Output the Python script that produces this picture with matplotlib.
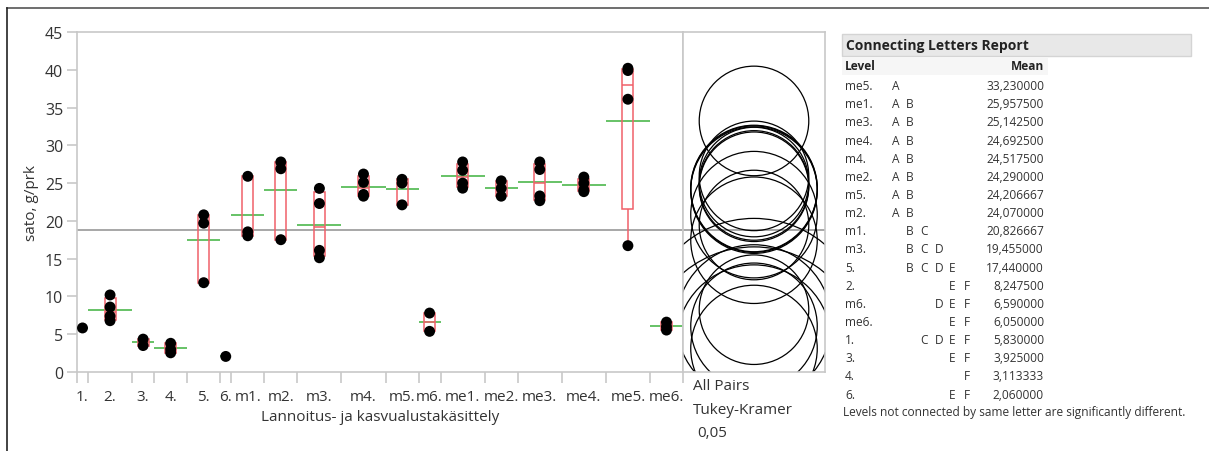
"""JMP-style oneway plot: yield by fertiliser / growing-medium treatment,
with Tukey-Kramer comparison circles and connecting letters report."""

import matplotlib
matplotlib.use("Agg")
import matplotlib.pyplot as plt  # noqa: E402
import numpy as np  # noqa: E402
from matplotlib.lines import Line2D  # noqa: E402
from matplotlib.patches import Circle, Rectangle  # noqa: E402

plt.rcParams["font.family"] = ["Open Sans", "DejaVu Sans"]

LEVELS = ["1.", "2.", "3.", "4.", "5.", "6.", "m1.", "m2.", "m3.", "m4.", "m5.",
          "m6.", "me1.", "me2.", "me3.", "me4.", "me5.", "me6."]
OBS = [
    [5.83],
    [10.2, 8.6, 7.4, 6.79],
    [4.35, 3.5],
    [3.8, 3.0, 2.54],
    [20.8, 19.7, 11.82],
    [2.06],
    [25.9, 18.55, 18.03],
    [27.8, 26.9, 17.51],
    [24.3, 22.3, 16.1, 15.12],
    [26.2, 25.1, 23.5, 23.27],
    [25.5, 25.0, 22.12],
    [7.8, 5.38],
    [27.8, 26.7, 25.0, 24.33],
    [25.3, 24.3, 23.27],
    [27.8, 26.8, 23.3, 22.67],
    [25.8, 25.0, 24.1, 23.87],
    [40.2, 39.9, 36.1, 16.72],
    [6.6, 6.0, 5.55],
]
# comparison circle radius for a single observation (y units)
CIRCLE_R1 = 14.5

REPORT_LEVELS = ["me5.", "me1.", "me3.", "me4.", "m4.", "me2.", "m5.", "m2.", "m1.",
                 "m3.", "5.", "2.", "m6.", "me6.", "1.", "3.", "4.", "6."]
REPORT_LETTERS = ["A", "AB", "AB", "AB", "AB", "AB", "AB", "AB", "BC", "BCD", "BCDE",
                  "EF", "DEF", "EF", "CDEF", "EF", "F", "EF"]
REPORT_MEANS = [33.23, 25.9575, 25.1425, 24.6925, 24.5175, 24.29, 24.206667, 24.07,
                20.826667, 19.455, 17.44, 8.2475, 6.59, 6.05, 5.83, 3.925, 3.113333, 2.06]

RED = "#f0606a"
GREEN = "#66c266"
TXT = "#333333"
SPINE = "#c8c8c8"

W, H = 1209, 452
fig = plt.figure(figsize=(W / 100, H / 100), dpi=100)


def fx(px):
    return px / W


def fy(py):
    return 1 - py / H


# main plot
ax = fig.add_axes([fx(77), fy(373), fx(683 - 77), fy(33) - fy(373)])
counts = np.array([len(o) for o in OBS])
edges = np.concatenate([[0], np.cumsum(counts)])
centers = (edges[:-1] + edges[1:]) / 2
grand = np.mean(np.concatenate(OBS))

ax.axhline(grand, color="#909090", lw=1.1, zorder=1)
for c, lo, hi, vals in zip(centers, edges[:-1], edges[1:], OBS):
    vals = np.array(vals)
    mean = vals.mean()
    ax.hlines(mean, lo, hi, color=GREEN, lw=1.4, zorder=2)
    if len(vals) > 1:
        q1, med, q3 = np.quantile(vals, [0.25, 0.5, 0.75], method="weibull")
        bw = 0.5
        ax.add_patch(Rectangle((c - bw, q1), 2 * bw, q3 - q1, fill=False,
                               ec=RED, lw=1.1, zorder=3))
        ax.hlines(med, c - bw, c + bw, color=RED, lw=1.1, zorder=3)
        ax.vlines(c, vals.min(), q1, color=RED, lw=1.1, zorder=3)
        ax.vlines(c, q3, vals.max(), color=RED, lw=1.1, zorder=3)
    ax.scatter(np.full(len(vals), c), vals, s=62, color="black", zorder=4,
               edgecolors="none")

ax.set_xlim(0, edges[-1])
ax.set_ylim(0, 45)
ax.set_yticks(range(0, 46, 5))
ax.set_xticks(edges)
ax.set_xticklabels([])
ax.set_xticks(centers, minor=True)
ax.set_xticklabels(LEVELS, minor=True)
ax.tick_params(axis="x", which="major", length=8, color=SPINE, width=1.2)
ax.tick_params(axis="x", which="minor", length=0, pad=12, labelsize=11, labelcolor=TXT)
ax.tick_params(axis="y", length=7, color=SPINE, width=1.2, labelsize=11.5,
               labelcolor=TXT, pad=3)
for s in ax.spines.values():
    s.set_color(SPINE)
    s.set_linewidth(1.2)
ax.set_xlabel("Lannoitus- ja kasvualustakäsittely", fontsize=11, color=TXT, labelpad=4)
ax.set_ylabel("sato, g/prk", fontsize=11, color=TXT, labelpad=4)

# comparison circles
cx = fig.add_axes([fx(683), fy(373), fx(825 - 683), fy(33) - fy(373)])
cx.set_ylim(0, 45)
half = (825 - 683) / 2 / ((373 - 33) / 45)
cx.set_xlim(-half, half)
cx.axhline(grand, color="#909090", lw=1.1, zorder=1)
for vals in OBS:
    r = CIRCLE_R1 / np.sqrt(len(vals))
    cx.add_patch(Circle((0, np.mean(vals)), r, fill=False, ec="black", lw=0.9,
                        zorder=2))
cx.set_xticks([])
cx.set_yticks([])
for s in cx.spines.values():
    s.set_color(SPINE)
    s.set_linewidth(1.2)
fig.text(fx(693), fy(387), "All Pairs", fontsize=11, color=TXT, va="center")
fig.text(fx(693), fy(411), "Tukey-Kramer", fontsize=11, color=TXT, va="center")
fig.text(fx(697), fy(434), "0,05", fontsize=11, color=TXT, va="center")

# connecting letters report
fs = 8.6
fig.patches.append(Rectangle((fx(842), fy(57)), fx(1191 - 842), fy(35) - fy(57),
                             transform=fig.transFigure, fc="#e8e8e8", ec="#d4d4d4",
                             lw=1.0))
fig.patches.append(Rectangle((fx(842), fy(76)), fx(1048 - 842), fy(58) - fy(76),
                             transform=fig.transFigure, fc="#f6f6f6", ec="none"))
fig.text(fx(846), fy(46), "Connecting Letters Report", fontsize=10, weight="bold",
         color="#222222", va="center")
fig.text(fx(845), fy(67), "Level", fontsize=fs, weight="bold", color="#222222",
         va="center")
fig.text(fx(1044), fy(67), "Mean", fontsize=fs, weight="bold", color="#222222",
         va="center", ha="right")
letter_x = {L: 892 + i * 14.3 for i, L in enumerate("ABCDEF")}
row0, dy = 86.7, 18.14
for i, (lev, lets, m) in enumerate(zip(REPORT_LEVELS, REPORT_LETTERS, REPORT_MEANS)):
    y = fy(row0 + i * dy)
    fig.text(fx(845), y, lev, fontsize=fs, color=TXT, va="center")
    for L in lets:
        fig.text(fx(letter_x[L]), y, L, fontsize=fs, color=TXT, va="center")
    fig.text(fx(1044), y, f"{m:.6f}".replace(".", ","), fontsize=fs, color=TXT,
             va="center", ha="right")
fig.text(fx(843), fy(413), "Levels not connected by same letter are significantly different.",
         fontsize=fs, color=TXT, va="center")

# outer frame
fig.add_artist(Line2D([fx(7), 1], [fy(9), fy(9)], color="#555555", lw=1.2,
                      transform=fig.transFigure))
fig.add_artist(Line2D([fx(7), fx(7)], [fy(9), 0], color="#222222", lw=1.2,
                      transform=fig.transFigure))

fig.savefig("out.png", dpi=100)
